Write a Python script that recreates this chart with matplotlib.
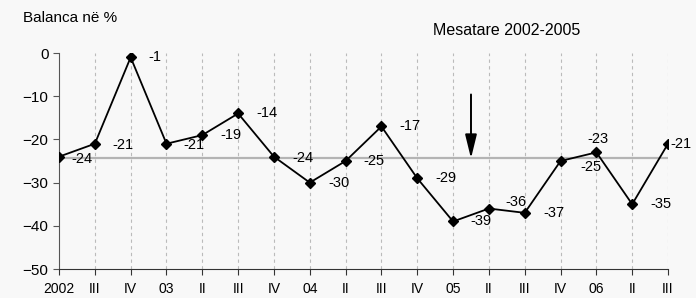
import matplotlib
matplotlib.use('Agg')
import matplotlib.pyplot as plt

# tremujoret 2002-2006
periudhat = ['2002', 'III', 'IV', '03', 'II', 'III', 'IV', '04', 'II', 'III',
             'IV', '05', 'II', 'III', 'IV', '06', 'II', 'III']
balanca = [-24, -21, -1, -21, -19, -14, -24, -30, -25, -17,
           -29, -39, -36, -37, -25, -23, -35, -21]
mesatarja = -24.4

# zhvendosja e etiketave ne piksel (dx, dy)
zhvendosje = [(12, -2), (18, -1), (18, 0), (17, -1), (18, 0), (18, 0),
              (18, -1), (19, 0), (18, 0), (18, 0), (18, 0), (17, 0),
              (16, 7), (19, 0), (20, -6), (-9, 13), (18, 0), (2, 0)]

plt.rcParams['font.family'] = ['Liberation Sans', 'DejaVu Sans']
plt.rcParams['font.size'] = 10

fig = plt.figure(figsize=(6.96, 2.98), dpi=100, facecolor='#f8f8f8')
ax = fig.add_axes([0.0848, 0.0973, 0.875, 0.7248])
ax.set_facecolor('#f8f8f8')

x = list(range(len(periudhat)))
for xi in x[1:]:
    ax.axvline(xi, color='#bbbbbb', lw=0.8, ls=(0, (3, 3)), zorder=1)
ax.axhline(mesatarja, color='#b4b4b4', lw=1.6, zorder=2)
ax.plot(x, balanca, color='black', lw=1.3, marker='D', markersize=5, zorder=3)

for xi, v, (dx, dy) in zip(x, balanca, zhvendosje):
    ax.annotate(str(v), (xi, v), xytext=(dx, dy), textcoords='offset pixels',
                ha='left', va='center', fontsize=10.5)

# shigjeta qe tregon mesataren
ax.annotate('', xy=(11.5, mesatarja), xytext=(11.5, -9.6),
            arrowprops=dict(arrowstyle='-|>,head_length=0.9,head_width=0.22',
                            color='black', lw=1.4, mutation_scale=16,
                            shrinkA=0, shrinkB=0))
ax.text(12.5, 5.3, 'Mesatare 2002-2005', ha='center', va='center',
        fontsize=11.5)
fig.text(0.033, 0.94, 'Balanca në %', ha='left', va='center', fontsize=11)

ax.set_xlim(0, 17)
ax.set_ylim(-50, 0)
ax.set_yticks(range(-50, 1, 10))
ax.set_xticks(x)
ax.set_xticklabels(periudhat)
ax.spines['top'].set_visible(False)
ax.spines['right'].set_visible(False)
ax.spines['left'].set_color('#555555')
ax.spines['bottom'].set_color('#333333')
ax.tick_params(axis='y', length=4, color='#555555', labelsize=11)
ax.tick_params(axis='x', length=4, color='#333333', labelsize=10, pad=5)

plt.savefig('out.png', dpi=100, facecolor='#f8f8f8')
